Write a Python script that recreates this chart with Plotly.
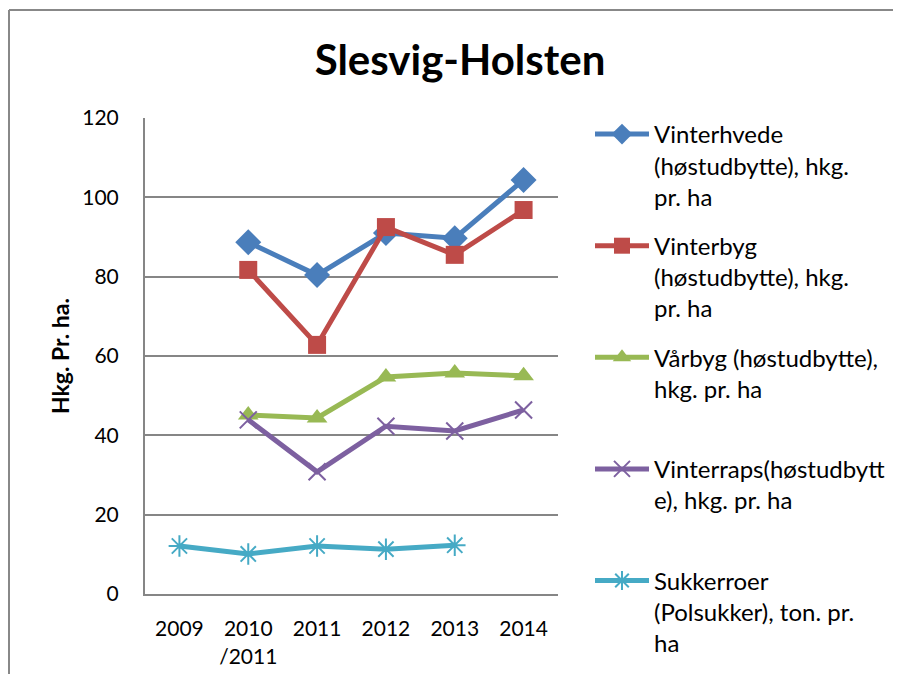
import plotly.graph_objects as go

categories = ["2009", "2010<br>/2011", "2011", "2012", "2013", "2014"]

vinterhvede = [None, 88.7, 80.4, 91.0, 89.7, 104.4]
vinterbyg = [None, 81.7, 62.8, 92.5, 85.5, 96.8]
vaarbyg = [None, 45.1, 44.4, 54.7, 55.7, 55.0]
vinterraps = [None, 43.9, 30.8, 42.3, 41.1, 46.4]
sukkerroer = [12.1, 10.1, 12.1, 11.3, 12.3, None]

series_names = [
    "Vinterhvede<br>(høstudbytte), hkg.<br>pr. ha",
    "Vinterbyg<br>(høstudbytte), hkg.<br>pr. ha",
    "Vårbyg (høstudbytte),<br>hkg. pr. ha<br> ",
    "Vinterraps(høstudbytt<br>e), hkg. pr. ha<br> ",
    "Sukkerroer<br>(Polsukker), ton. pr.<br>ha",
]
series_values = [vinterhvede, vinterbyg, vaarbyg, vinterraps, sukkerroer]
colors = ["#4A7EBB", "#BE4B48", "#98B954", "#7D60A0", "#46AAC5"]
symbols = ["diamond", "square", "triangle-up", "x-thin-open", "asterisk-open"]
msizes = [20, 18, 18, 17, 18]

# page body has an 8px margin: figure coordinates are page coordinates minus 8
W, H = 885, 666
L, R, T, B = 137, 335, 110, 80
pw, ph = W - L - R, H - T - B

fig = go.Figure()
for i, (nm, vals) in enumerate(zip(series_names, series_values)):
    open_sym = symbols[i].endswith("open")
    fig.add_trace(go.Scatter(
        x=categories, y=vals, name=nm, mode="lines+markers",
        legendgroup=str(i),
        line=dict(color=colors[i], width=5),
        marker=dict(symbol=symbols[i], size=msizes[i], color=colors[i],
                    line=dict(color=colors[i], width=2 if open_sym else 0)),
    ))

font = "Lato, 'Open Sans', sans-serif"
border = dict(color="#888888", width=2)
fig.update_layout(
    width=W, height=H,
    margin=dict(l=L, r=R, t=T, b=B, autoexpand=False),
    paper_bgcolor="white", plot_bgcolor="white",
    font=dict(family=font, size=21, color="black"),
    title=dict(text="<b>Slesvig-Holsten</b>", x=452 / W, xanchor="center",
               y=1 - 52 / H, yanchor="middle",
               font=dict(family=font, size=42, color="black")),
    xaxis=dict(type="category", range=[-0.5, 5.5], showgrid=False,
               showline=True, linecolor="#868686", linewidth=2,
               ticks="", tickfont=dict(size=21), ticklabelstandoff=15),
    yaxis=dict(range=[0, 120], dtick=20, showgrid=True, gridcolor="#868686",
               gridwidth=1.5, showline=True, linecolor="#868686", linewidth=2,
               zeroline=False, ticks="", tickfont=dict(size=21),
               ticklabelstandoff=20,
               title=dict(text="<b>Hkg. Pr. ha.</b>", font=dict(size=23), standoff=6)),
    legend=dict(x=(582 - L) / pw, xanchor="left", y=(H - B - 104) / ph, yanchor="top",
                font=dict(family=font, size=24), valign="top", maxheight=1.0,
                tracegroupgap=15, itemwidth=54, bgcolor="rgba(0,0,0,0)"),
    shapes=[
        dict(type="line", xref="paper", yref="paper",
             x0=(1 - L) / pw, x1=(W + 40 - L) / pw,
             y0=(H - B - 2) / ph, y1=(H - B - 2) / ph, line=border, layer="below"),
        dict(type="line", xref="paper", yref="paper",
             x0=(1 - L) / pw, x1=(1 - L) / pw,
             y0=(H - B - 2) / ph, y1=(H - B - (H + 40)) / ph, line=border, layer="below"),
    ],
)

fig.write_html("out.html")
